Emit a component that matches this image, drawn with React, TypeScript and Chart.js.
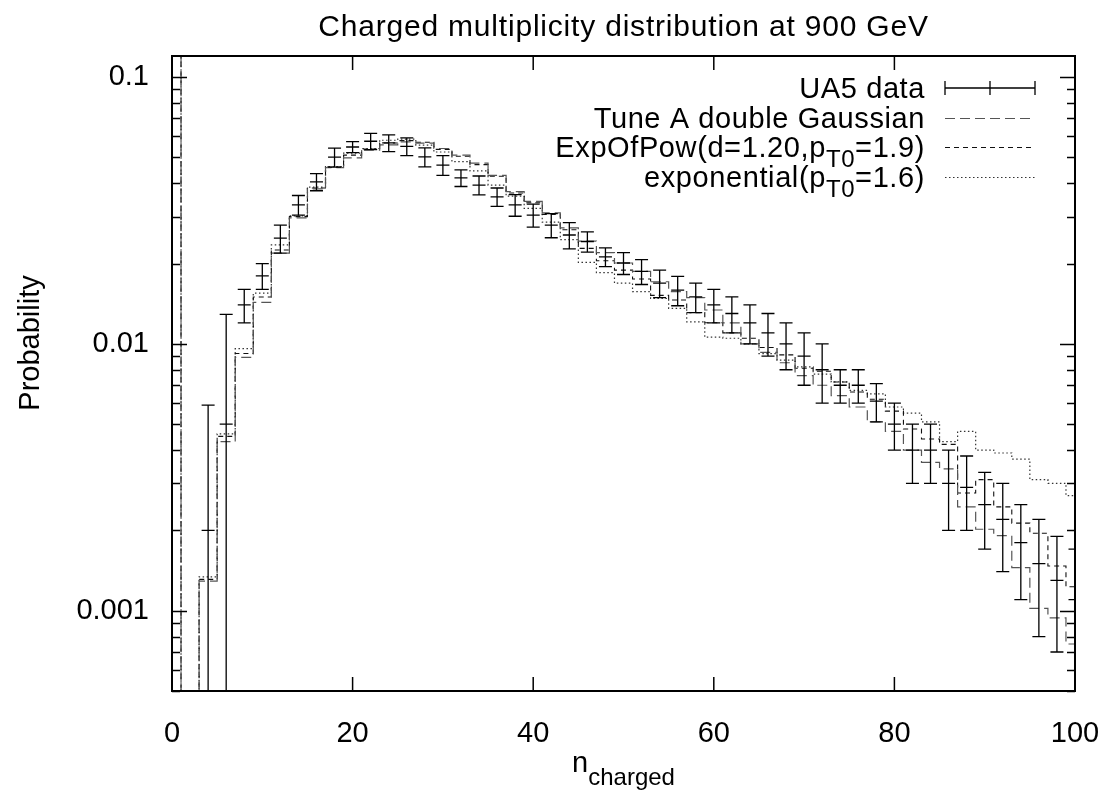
import React, { useEffect, useRef } from 'react';
import { Chart, registerables } from 'chart.js';

Chart.register(...registerables);

const FONT = '"Liberation Sans", Arial, Helvetica, sans-serif';

// Histogram bin centres (bins of width 2)
const binCenters = [0, 2, 4, 6, 8, 10, 12, 14, 16, 18, 20, 22, 24, 26, 28, 30, 32, 34, 36, 38, 40, 42, 44, 46, 48, 50,
  52, 54, 56, 58, 60, 62, 64, 66, 68, 70, 72, 74, 76, 78, 80, 82, 84, 86, 88, 90, 92, 94, 96, 98, 100];

const tuneA = [1, 1e-5, 0.00129, 0.0043, 0.0089, 0.0143, 0.0219, 0.0297, 0.0381, 0.0458, 0.0498, 0.0533, 0.0557,
  0.0572, 0.0566, 0.054, 0.051, 0.0476, 0.0428, 0.0372, 0.0342, 0.031, 0.0272, 0.0243, 0.022, 0.0201, 0.0187, 0.0171,
  0.0157, 0.0149, 0.0134, 0.012, 0.01, 0.0093, 0.0085, 0.0076, 0.007, 0.0064, 0.0058, 0.0051, 0.0047, 0.004, 0.0036,
  0.0034, 0.00245, 0.00202, 0.00191, 0.00145, 0.00102, 0.00094, 0.00075];

const expOfPow = [1, 1e-5, 0.00131, 0.0045, 0.0092, 0.015, 0.0225, 0.03, 0.0384, 0.046, 0.051, 0.0538, 0.0566,
  0.0578, 0.057, 0.0536, 0.0505, 0.047, 0.0425, 0.0368, 0.0338, 0.0306, 0.0268, 0.0228, 0.0205, 0.0189, 0.0175, 0.0152,
  0.0146, 0.0131, 0.012, 0.011, 0.0105, 0.0097, 0.0091, 0.0081, 0.0079, 0.0072, 0.0066, 0.0062, 0.0056, 0.0048, 0.0044,
  0.0042, 0.00276, 0.0031, 0.00245, 0.00213, 0.00195, 0.00147, 0.00123];

const exponential = [1, 1e-5, 0.00134, 0.0046, 0.0096, 0.0155, 0.0235, 0.0302, 0.0387, 0.0462, 0.0519, 0.054, 0.058,
  0.0586, 0.0556, 0.0524, 0.0482, 0.0445, 0.0394, 0.0358, 0.0322, 0.0286, 0.0246, 0.0202, 0.0185, 0.0169, 0.0157, 0.0148,
  0.0136, 0.0121, 0.0106, 0.0105, 0.01, 0.0092, 0.0087, 0.0082, 0.0077, 0.0072, 0.0067, 0.0065, 0.0058, 0.0055, 0.0051,
  0.0043, 0.0047, 0.004, 0.0039, 0.0037, 0.0031, 0.003, 0.0027];

// UA5 data points
const dataN = [4, 6, 8, 10, 12, 14, 16, 18, 20, 22, 24, 26, 28, 30, 32, 34, 36, 38, 40, 42, 44, 46, 48, 50, 52, 54,
  56, 58, 60, 62, 64, 66, 68, 70, 72, 74, 76, 78, 80, 82, 84, 86, 88, 90, 92, 94, 96, 98, 100];
const dataVal = [0.002, 0.005, 0.014, 0.018, 0.0249, 0.0332, 0.0405, 0.0501, 0.0547, 0.0575, 0.0567, 0.055, 0.0502,
  0.0468, 0.0419, 0.0394, 0.0356, 0.0332, 0.0304, 0.0279, 0.0256, 0.0242, 0.0212, 0.0201, 0.0187, 0.0169, 0.0159,
  0.015, 0.014, 0.013, 0.012, 0.011, 0.01, 0.009, 0.008, 0.007, 0.007, 0.0061, 0.005, 0.004, 0.004, 0.003, 0.0029,
  0.0025, 0.0022, 0.0018, 0.0015, 0.0013, 0.0011];
const dataErr = [0.0039, 0.0079, 0.002, 0.002, 0.003, 0.0028, 0.003, 0.0041, 0.0026, 0.004, 0.0041, 0.0042, 0.0041,
  0.004, 0.003, 0.0032, 0.0028, 0.0031, 0.003, 0.0029, 0.0029, 0.0021, 0.0017, 0.0019, 0.002, 0.002, 0.002, 0.0019,
  0.002, 0.002, 0.002, 0.002, 0.002, 0.002, 0.002, 0.001, 0.001, 0.001, 0.001, 0.001, 0.001, 0.001, 0.0009, 0.0008,
  0.0008, 0.0007, 0.0007, 0.0006, 0.0006];

const xTicks = [0, 20, 40, 60, 80, 100];
const yTicks = [0.001, 0.01, 0.1];
const yTickLabels = ['0.001', '0.01', '0.1'];

const titleText = 'Charged multiplicity distribution at 900 GeV';
const yLabel = 'Probability';
const xLabelMain = 'n';
const xLabelSub = 'charged';

const seriesNames = ['UA5 data', 'Tune A double Gaussian', 'ExpOfPow(d=1.20,p_{T0}=1.9)', 'exponential(p_{T0}=1.6)'];

function parseSub(s: string): [string, boolean][] {
  const out: [string, boolean][] = [];
  const re = /_\{([^}]*)\}/g;
  let last = 0;
  let m: RegExpExecArray | null;
  while ((m = re.exec(s))) {
    if (m.index > last) out.push([s.slice(last, m.index), false]);
    out.push([m[1], true]);
    last = m.index + m[0].length;
  }
  if (last < s.length) out.push([s.slice(last), false]);
  return out;
}

const MAIN = 29;
const SUB = 24;
const SUBDROP = 10;

function setSpacing(ctx: any, px: number) {
  if ('letterSpacing' in ctx) ctx.letterSpacing = `${px}px`;
}

function drawRich(ctx: CanvasRenderingContext2D, s: string, xRight: number, base: number, spacing: number) {
  const parts = parseSub(s);
  setSpacing(ctx, spacing);
  let total = 0;
  const widths = parts.map(([t, sub]) => {
    ctx.font = `${sub ? SUB : MAIN}px ${FONT}`;
    const w = ctx.measureText(t).width;
    total += w;
    return w;
  });
  let x = xRight - total;
  ctx.textAlign = 'left';
  ctx.textBaseline = 'alphabetic';
  parts.forEach(([t, sub], i) => {
    ctx.font = `${sub ? SUB : MAIN}px ${FONT}`;
    ctx.fillText(t, x, base + (sub ? SUBDROP : 0));
    x += widths[i];
  });
  setSpacing(ctx, 0);
}

const decorPlugin = {
  id: 'gnuplotDecor',
  afterDatasetsDraw(chart: any) {
    const { ctx, chartArea: a, scales } = chart;
    const x = scales.x;
    const y = scales.y;
    ctx.save();
    ctx.beginPath();
    ctx.rect(a.left, a.top, a.right - a.left, a.bottom - a.top);
    ctx.clip();
    ctx.strokeStyle = '#000';
    ctx.lineWidth = 1.3;
    const pts = chart.data.datasets[0].data;
    const cw = 6.5;
    for (const p of pts) {
      const px = x.getPixelForValue(p.x);
      const py = y.getPixelForValue(p.y);
      const hi = y.getPixelForValue(p.y + p.e);
      const hasLo = p.y - p.e > 0;
      const lo = hasLo ? y.getPixelForValue(p.y - p.e) : a.bottom + 5;
      ctx.beginPath();
      ctx.moveTo(px, lo);
      ctx.lineTo(px, hi);
      ctx.moveTo(px - cw, hi);
      ctx.lineTo(px + cw, hi);
      if (hasLo) {
        ctx.moveTo(px - cw, lo);
        ctx.lineTo(px + cw, lo);
      }
      ctx.moveTo(px - cw, py);
      ctx.lineTo(px + cw, py);
      ctx.stroke();
    }
    ctx.restore();
  },
  afterDraw(chart: any) {
    const { ctx, chartArea: a, scales } = chart;
    const x = scales.x;
    const y = scales.y;
    ctx.save();
    // border
    ctx.strokeStyle = '#000';
    ctx.lineWidth = 2;
    ctx.strokeRect(a.left, a.top, a.right - a.left, a.bottom - a.top);
    // x ticks (bottom and top, inward)
    ctx.lineWidth = 1.5;
    ctx.beginPath();
    for (const v of xTicks) {
      const px = x.getPixelForValue(v);
      ctx.moveTo(px, a.bottom);
      ctx.lineTo(px, a.bottom - 14);
      ctx.moveTo(px, a.top);
      ctx.lineTo(px, a.top + 14);
    }
    // y ticks, major + minor, both sides
    const yMin = y.min;
    const yMax = y.max;
    for (let d = 0.0001; d < 1; d *= 10) {
      for (let m = 1; m <= 9; m++) {
        const v = m * d;
        if (v < yMin * 0.999 || v > yMax * 1.001) continue;
        const py = Math.round(y.getPixelForValue(v)) + 0.5;
        const len = m === 1 ? 15 : 8;
        ctx.moveTo(a.left, py);
        ctx.lineTo(a.left + len, py);
        ctx.moveTo(a.right, py);
        ctx.lineTo(a.right - len, py);
      }
    }
    ctx.stroke();

    // legend
    ctx.fillStyle = '#000';
    const ds = chart.data.datasets;
    const rowY = [88, 118, 147, 177];
    const textRight = 925;
    const sx0 = 945;
    const sx1 = 1035;
    ds.forEach((d: any, i: number) => {
      const cy = rowY[i];
      drawRich(ctx, seriesNames[i], textRight, cy + 10, 0.6);
      ctx.save();
      if (i === 0) {
        ctx.strokeStyle = '#000';
        ctx.lineWidth = 1.3;
        ctx.beginPath();
        ctx.moveTo(sx0, cy);
        ctx.lineTo(sx1, cy);
        for (const xx of [sx0, (sx0 + sx1) / 2, sx1]) {
          ctx.moveTo(xx, cy - 7);
          ctx.lineTo(xx, cy + 7);
        }
        ctx.stroke();
      } else {
        ctx.strokeStyle = d.borderColor;
        ctx.lineWidth = d.borderWidth;
        ctx.setLineDash(d.borderDash);
        ctx.beginPath();
        ctx.moveTo(sx0, cy + 0.5);
        ctx.lineTo(sx1, cy + 0.5);
        ctx.stroke();
      }
      ctx.restore();
    });

    // title
    const cx = (a.left + a.right) / 2;
    ctx.font = `30px ${FONT}`;
    setSpacing(ctx, 0.8);
    ctx.textAlign = 'left';
    ctx.textBaseline = 'alphabetic';
    const tw = ctx.measureText(titleText).width;
    ctx.fillText(titleText, cx - tw / 2, 36);
    setSpacing(ctx, 0);

    // x label with subscript
    ctx.font = `${MAIN}px ${FONT}`;
    const w1 = ctx.measureText(xLabelMain).width;
    ctx.font = `${SUB}px ${FONT}`;
    const w2 = ctx.measureText(xLabelSub).width;
    const start = cx - (w1 + w2) / 2;
    ctx.textAlign = 'left';
    ctx.font = `${MAIN}px ${FONT}`;
    ctx.fillText(xLabelMain, start, 772);
    ctx.font = `${SUB}px ${FONT}`;
    ctx.fillText(xLabelSub, start + w1, 772 + SUBDROP + 3);

    // y label
    ctx.save();
    ctx.translate(39, 343);
    ctx.rotate(-Math.PI / 2);
    ctx.font = `${MAIN}px ${FONT}`;
    ctx.textAlign = 'center';
    ctx.fillText(yLabel, 0, 0);
    ctx.restore();

    ctx.restore();
  },
};

export default function App() {
  const ref = useRef<HTMLCanvasElement | null>(null);

  useEffect(() => {
    if (!ref.current) return;
    const uaData = dataN.map((n, i) => ({ x: n, y: dataVal[i], e: dataErr[i] }));
    const mk = (arr: number[]) => binCenters.map((n, i) => ({ x: n, y: arr[i] }));
    const chart = new Chart(ref.current, {
      type: 'line',
      data: {
        datasets: [
          {
            label: seriesNames[0],
            data: uaData as any,
            showLine: false,
            pointRadius: 0,
            borderWidth: 0,
          },
          {
            label: seriesNames[1],
            data: mk(tuneA),
            stepped: 'middle',
            borderColor: '#555',
            borderWidth: 1.2,
            borderDash: [10, 5],
            pointRadius: 0,
            fill: false,
          },
          {
            label: seriesNames[2],
            data: mk(expOfPow),
            stepped: 'middle',
            borderColor: '#111',
            borderWidth: 1.1,
            borderDash: [5, 4],
            pointRadius: 0,
            fill: false,
          },
          {
            label: seriesNames[3],
            data: mk(exponential),
            stepped: 'middle',
            borderColor: '#333',
            borderWidth: 1.2,
            borderDash: [1.5, 2.5],
            pointRadius: 0,
            fill: false,
          },
        ],
      },
      options: {
        responsive: false,
        animation: false,
        devicePixelRatio: 1,
        layout: { padding: { top: 56, right: 34, bottom: 0, left: 0 } },
        plugins: {
          legend: { display: false },
          title: { display: false },
          tooltip: { enabled: false },
        },
        scales: {
          x: {
            type: 'linear',
            min: 0,
            max: 100,
            grid: { display: false, drawTicks: false },
            border: { display: false },
            afterBuildTicks: (s: any) => {
              s.ticks = xTicks.map((v) => ({ value: v }));
            },
            afterFit: (s: any) => {
              s.height = 106;
              s.paddingLeft = 0;
              s.paddingRight = 0;
            },
            ticks: {
              autoSkip: false,
              maxRotation: 0,
              padding: 26,
              color: '#000',
              font: { family: FONT, size: MAIN },
            },
          },
          y: {
            type: 'logarithmic',
            min: 0.0005,
            max: 0.12,
            grid: { display: false, drawTicks: false },
            border: { display: false },
            afterBuildTicks: (s: any) => {
              s.ticks = yTicks.map((v) => ({ value: v }));
            },
            afterFit: (s: any) => {
              s.width = 172;
              s.paddingTop = 0;
              s.paddingBottom = 0;
            },
            ticks: {
              padding: 23,
              color: '#000',
              font: { family: FONT, size: MAIN },
              callback: (v: any) => {
                const i = yTicks.findIndex((t) => Math.abs(t - v) / t < 1e-6);
                return i >= 0 ? yTickLabels[i] : '';
              },
            },
          },
        },
      },
      plugins: [decorPlugin],
    });
    return () => chart.destroy();
  }, []);

  return (
    <div style={{ position: 'absolute', left: 0, top: 0, width: 1109, height: 797, background: '#fff' }}>
      <canvas ref={ref} width={1109} height={797} style={{ display: 'block' }} />
    </div>
  );
}
